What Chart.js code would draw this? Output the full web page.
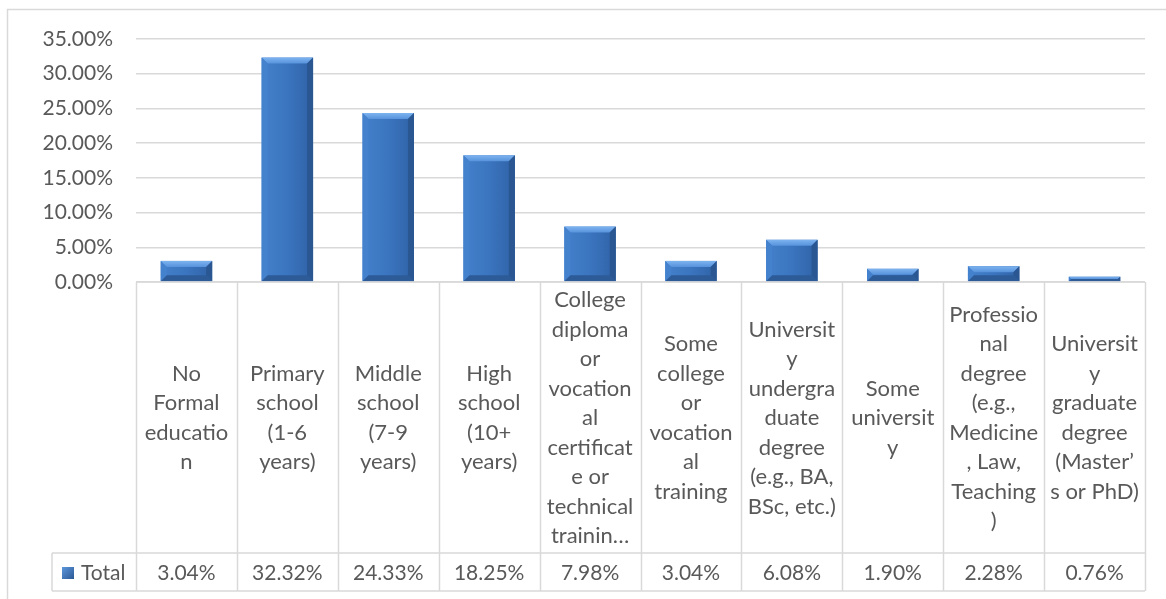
<!DOCTYPE html>
<html><head><meta charset="utf-8">
<script src="https://cdn.jsdelivr.net/npm/chart.js@4/dist/chart.umd.min.js"></script>
<style>html,body{margin:0;padding:0;background:#fff;overflow:hidden}#wrap{position:relative;width:1166px;height:599px}</style>
</head><body><div id="wrap"><canvas id="c" width="1166" height="599"></canvas></div>
<script>
// ---- data ----
const categories = [
  ["No","Formal","educatio","n"],
  ["Primary","school","(1-6","years)"],
  ["Middle","school","(7-9","years)"],
  ["High","school","(10+","years)"],
  ["College","diploma","or","vocation","al","certificat","e or","technical","trainin…"],
  ["Some","college","or","vocation","al","training"],
  ["Universit","y","undergra","duate","degree","(e.g., BA,","BSc, etc.)"],
  ["Some","universit","y"],
  ["Professio","nal","degree","(e.g.,","Medicine",", Law,","Teaching",")"],
  ["Universit","y","graduate","degree","(Master’","s or PhD)"]
];
const seriesName = "Total";
const totals = [3.04, 32.32, 24.33, 18.25, 7.98, 3.04, 6.08, 1.90, 2.28, 0.76];
const yMin = 0, yMax = 35, yStep = 5;

// ---- style ----
const FONT = 'Lato, "Open Sans", sans-serif';
const FS = 21;
const FS_CAT = 22;
const TXT = '#595959';
const GRID = '#D9D9D9';
const LABEL_ROW_H = 271;
const TOTAL_ROW_H = 38;
const LEGEND_LEFT = 52;

const fmt = v => v.toFixed(2) + '%';

const bevelPlugin = {
  id: 'bevel',
  afterDatasetsDraw(chart) {
    const ctx = chart.ctx;
    const meta = chart.getDatasetMeta(0);
    meta.data.forEach(bar => {
      const p = bar.getProps(['x','y','base','width'], true);
      const x0 = p.x - p.width/2, x1 = p.x + p.width/2;
      const y0 = Math.min(p.y, p.base), y1 = Math.max(p.y, p.base);
      const h = y1 - y0;
      const b = Math.min(6, h/2);
      ctx.save();
      const g = ctx.createLinearGradient(x0, 0, x1, 0);
      g.addColorStop(0, '#4380CB');
      g.addColorStop(0.5, '#3B75BF');
      g.addColorStop(1, '#2F62A6');
      ctx.fillStyle = g;
      ctx.fillRect(x0, y0, x1-x0, h);
      const gt = ctx.createLinearGradient(0, y0, 0, y0+b);
      gt.addColorStop(0, '#7DB3F0');
      gt.addColorStop(1, '#5792DB');
      ctx.fillStyle = gt;
      ctx.beginPath();
      ctx.moveTo(x0, y0); ctx.lineTo(x1, y0); ctx.lineTo(x1-b, y0+b); ctx.lineTo(x0+b, y0+b); ctx.closePath(); ctx.fill();
      ctx.fillStyle = '#4582CE';
      ctx.beginPath();
      ctx.moveTo(x0, y0); ctx.lineTo(x0+b, y0+b); ctx.lineTo(x0+b, y1-b); ctx.lineTo(x0, y1); ctx.closePath(); ctx.fill();
      ctx.fillStyle = '#2A5792';
      ctx.beginPath();
      ctx.moveTo(x1, y0); ctx.lineTo(x1-b, y0+b); ctx.lineTo(x1-b, y1-b); ctx.lineTo(x1, y1); ctx.closePath(); ctx.fill();
      ctx.fillStyle = '#2D5B98';
      ctx.beginPath();
      ctx.moveTo(x0, y1); ctx.lineTo(x0+b, y1-b); ctx.lineTo(x1-b, y1-b); ctx.lineTo(x1, y1); ctx.closePath(); ctx.fill();
      ctx.restore();
    });
  }
};

const tablePlugin = {
  id: 'dataTable',
  afterDraw(chart) {
    const ctx = chart.ctx;
    const area = chart.chartArea;
    const xs = chart.scales.x;
    const top = area.bottom;
    const mid = top + LABEL_ROW_H;
    const bot = mid + TOTAL_ROW_H;
    const n = categories.length;
    const step = (area.right - area.left) / n;
    ctx.save();
    ctx.strokeStyle = GRID; ctx.lineWidth = 1.5;
    ctx.beginPath(); ctx.moveTo(7.5, 700); ctx.lineTo(7.5, 9.5); ctx.lineTo(1300, 9.5); ctx.stroke();
    ctx.beginPath();
    ctx.moveTo(area.left, top); ctx.lineTo(area.right, top);
    ctx.moveTo(LEGEND_LEFT, mid); ctx.lineTo(area.right, mid);
    ctx.moveTo(LEGEND_LEFT, bot); ctx.lineTo(area.right, bot);
    ctx.moveTo(LEGEND_LEFT, mid); ctx.lineTo(LEGEND_LEFT, bot);
    for (let i = 0; i <= n; i++) {
      const x = Math.round(area.left + i*step) + 0.5;
      ctx.moveTo(x, top); ctx.lineTo(x, bot);
    }
    ctx.stroke();
    ctx.fillStyle = TXT;
    ctx.font = FS + 'px ' + FONT;
    ctx.textAlign = 'center'; ctx.textBaseline = 'middle';
    const ty = (mid + bot) / 2 + 1;
    totals.forEach((v, i) => {
      ctx.fillText(fmt(v), xs.getPixelForValue(i), ty);
    });
    const kx = LEGEND_LEFT + 10, ks = 12;
    const g = ctx.createLinearGradient(kx, ty - ks/2, kx + ks, ty + ks/2);
    g.addColorStop(0, '#5C97DD'); g.addColorStop(1, '#2B5894');
    ctx.fillStyle = g;
    ctx.fillRect(kx, ty - ks/2, ks, ks);
    ctx.fillStyle = TXT;
    ctx.textAlign = 'left';
    ctx.fillText(seriesName, kx + ks + 7, ty);
    ctx.restore();
  }
};

new Chart(document.getElementById('c'), {
  type: 'bar',
  data: {
    labels: categories,
    datasets: [{
      label: seriesName,
      data: totals,
      backgroundColor: 'rgba(0,0,0,0)',
      borderWidth: 0,
      categoryPercentage: 1.0,
      barPercentage: 0.51
    }]
  },
  options: {
    responsive: false,
    animation: false,
    devicePixelRatio: 1,
    layout: { padding: { left: 0, right: 21, top: 39, bottom: 8 } },
    plugins: { legend: { display: false }, tooltip: { enabled: false } },
    scales: {
      x: {
        grid: { display: false, drawTicks: false },
        border: { display: false },
        ticks: {
          autoSkip: false, maxRotation: 0, minRotation: 0,
          crossAlign: 'center',
          padding: 18,
          color: TXT,
          font: { family: FONT, size: FS_CAT, lineHeight: '29.5px' }
        },
        afterFit(s) { s.height = LABEL_ROW_H + TOTAL_ROW_H; }
      },
      y: {
        min: yMin, max: yMax,
        grid: { color: GRID, lineWidth: 1.5, drawTicks: false },
        border: { display: false },
        ticks: {
          stepSize: yStep,
          padding: 23,
          color: TXT,
          font: { family: FONT, size: FS },
          callback: v => fmt(v)
        },
        afterFit(s) { s.width = 136; }
      }
    }
  },
  plugins: [bevelPlugin, tablePlugin]
});
</script></body></html>
